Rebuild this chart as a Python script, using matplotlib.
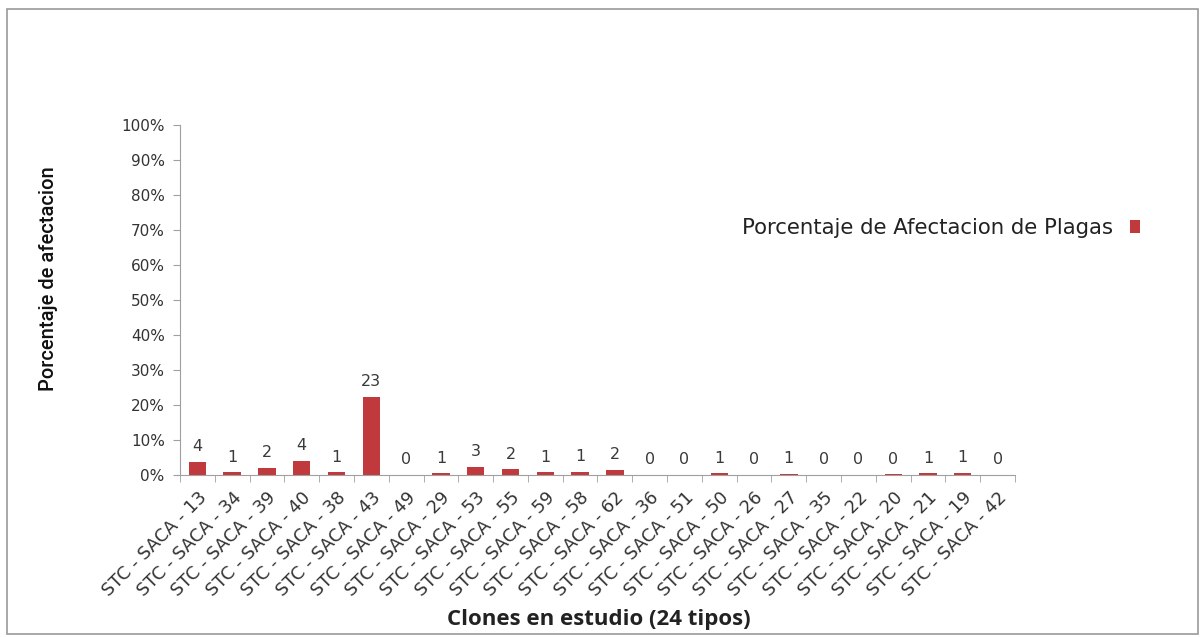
import numpy as np
import matplotlib.pyplot as plt
from matplotlib.patches import Rectangle
from matplotlib.ticker import PercentFormatter

clones = ['13', '34', '39', '40', '38', '43', '49', '29', '53', '55', '59', '58',
          '62', '36', '51', '50', '26', '27', '35', '22', '20', '21', '19', '42']
categories = ['STC - SACA - ' + c for c in clones]
values = [3.7, 0.8, 2.0, 4.0, 0.8, 22.3, 0.0, 0.5, 2.4, 1.6, 0.8, 0.9,
          1.5, 0.0, 0.0, 0.5, 0.0, 0.4, 0.0, 0.0, 0.2, 0.5, 0.6, 0.0]
labels = [4, 1, 2, 4, 1, 23, 0, 1, 3, 2, 1, 1, 2, 0, 0, 1, 0, 1, 0, 0, 0, 1, 1, 0]

bar_color = '#C0393D'
grey = '#A0A0A0'

fig = plt.figure(figsize=(12.04, 6.37), dpi=100)
fig.patches.append(Rectangle((0.006, 0.004), 0.989, 0.982, transform=fig.transFigure,
                             fill=False, edgecolor='#9A9A9A', linewidth=1.2))

ax = fig.add_axes([0.1495, 0.2543, 0.6935, 0.5495])
x = np.arange(len(categories))
bars = ax.bar(x, values, width=0.5, color=bar_color, label='Porcentaje de Afectacion de Plagas')

for xi, v, lab in zip(x, values, labels):
    ax.text(xi, v + 2.2, str(lab), ha='center', va='bottom', fontsize=11.5, color='#3a3a3a')

ax.set_xlim(-0.5, len(categories) - 0.5)
ax.set_ylim(0, 100)
ax.set_yticks(np.arange(0, 101, 10))
ax.yaxis.set_major_formatter(PercentFormatter(decimals=0))
ax.set_xticks(x)
ax.set_xticklabels(categories, rotation=45, ha='right', rotation_mode='anchor', fontsize=12.8,
                   color='#333333')
ax.set_xticks(np.arange(-0.5, len(categories), 1), minor=True)
ax.tick_params(axis='x', which='major', length=0, pad=10)
ax.tick_params(axis='x', which='minor', length=5, color=grey, direction='out')
ax.tick_params(axis='y', length=5, color=grey, labelsize=11, labelcolor='#333333', pad=6)

for s in ['top', 'right']:
    ax.spines[s].set_visible(False)
for s in ['left', 'bottom']:
    ax.spines[s].set_color(grey)

ax.set_ylabel('Porcentaje de afectacion', fontsize=14.5, family='Roboto',
              fontweight='medium', fontstretch='condensed', color='#111111')
ax.yaxis.set_label_coords(-0.146, 0.56)
ax.set_xlabel('Clones en estudio (24 tipos)', fontsize=16, fontweight='bold',
              family='Open Sans', color='#222222')
ax.xaxis.set_label_coords(0.502, -0.382)

leg = ax.legend(loc='center left', bbox_to_anchor=(0.6, 0.642), bbox_transform=fig.transFigure,
                frameon=False, markerfirst=False, handlelength=0.5, handleheight=0.5,
                handletextpad=0.8, prop={'family': 'DejaVu Sans', 'size': 15.3})
for t in leg.get_texts():
    t.set_color('#222222')

fig.savefig('out.png', dpi=100)
